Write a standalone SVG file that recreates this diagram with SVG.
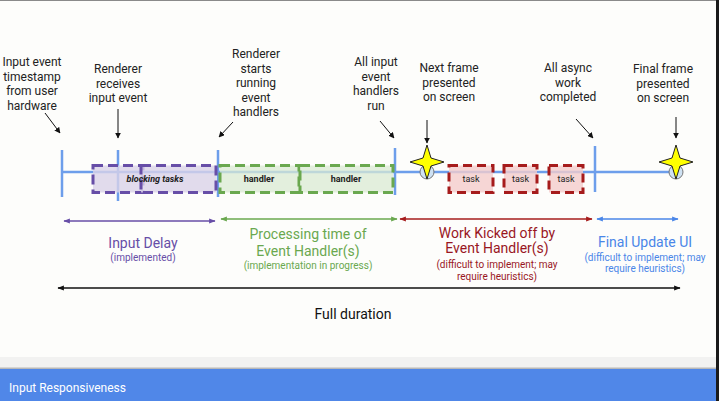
<svg xmlns="http://www.w3.org/2000/svg" width="719" height="401" viewBox="0 0 719 401">
<style>
  text { font-family: Roboto, "Liberation Sans", sans-serif; }
  .lbl { font-size: 12px; fill: #222; text-anchor: middle; }
  .tick { stroke: #6d9eeb; stroke-width: 2.5; }
  .tl { stroke: #6d9eeb; stroke-width: 2.5; fill: none; }
  .pbox { fill: #d9d2e9; fill-opacity: 0.8; stroke: #674ea7; stroke-width: 3; stroke-dasharray: 10 5; }
  .gbox { fill: #d9ead3; fill-opacity: 0.75; stroke: #6aa84f; stroke-width: 3; stroke-dasharray: 10 5; }
  .rbox { fill: #f4cccc; fill-opacity: 0.8; stroke: #a61c1c; stroke-width: 3; stroke-dasharray: 9 5; }
  .bt { font-size: 9px; fill: #222; text-anchor: middle; }
  .ptr { stroke: #111; stroke-width: 1; fill: none; marker-end: url(#ah); }
  .star { fill: #ffff00; stroke: #222; stroke-width: 1; }
  .circ { fill: #cfe2f3; stroke: #777; stroke-width: 1; }
  .big { font-size: 14px; text-anchor: middle; }
  .small { font-size: 10px; text-anchor: middle; }
</style>
<defs>
  <marker id="ah" viewBox="0 0 10 10" refX="9" refY="5" markerWidth="6" markerHeight="6" orient="auto"><path d="M0,0 L10,5 L0,10 z" fill="#111"/></marker>
  <marker id="ap" viewBox="0 0 10 10" refX="9" refY="5" markerWidth="5" markerHeight="5" orient="auto-start-reverse"><path d="M0,1 L10,5 L0,9 z" fill="#674ea7"/></marker>
  <marker id="ag" viewBox="0 0 10 10" refX="9" refY="5" markerWidth="5" markerHeight="5" orient="auto-start-reverse"><path d="M0,1 L10,5 L0,9 z" fill="#6aa84f"/></marker>
  <marker id="ar" viewBox="0 0 10 10" refX="9" refY="5" markerWidth="5" markerHeight="5" orient="auto-start-reverse"><path d="M0,1 L10,5 L0,9 z" fill="#a61c1c"/></marker>
  <marker id="ab" viewBox="0 0 10 10" refX="9" refY="5" markerWidth="5" markerHeight="5" orient="auto-start-reverse"><path d="M0,1 L10,5 L0,9 z" fill="#4a86e8"/></marker>
  <marker id="ak" viewBox="0 0 10 10" refX="9" refY="5" markerWidth="5" markerHeight="5" orient="auto-start-reverse"><path d="M0,1 L10,5 L0,9 z" fill="#111"/></marker>
</defs>

<!-- background / frame -->
<rect x="0" y="0" width="719" height="401" fill="#fdfdfb"/>
<rect x="0" y="0" width="719" height="1" fill="#8a8a8a"/>
<rect x="0" y="357" width="719" height="11" fill="#f2f2f1"/>
<rect x="0" y="367.5" width="719" height="1.5" fill="#b8b8b8"/>
<rect x="0" y="369" width="719" height="32" fill="#5087e8"/>
<text x="9" y="392" font-size="12" fill="#ffffff">Input Responsiveness</text>
<rect x="716" y="0" width="3" height="401" fill="#1a1a1a"/>

<!-- timeline -->
<g id="timeline">
  <line class="tl" x1="62" y1="172" x2="678" y2="172"/>
  <line class="tick" x1="62" y1="150" x2="62" y2="197"/>
  <line class="tick" x1="118" y1="150" x2="118" y2="201"/>
  <line class="tick" x1="218" y1="150" x2="218" y2="197"/>
  <line class="tick" x1="395" y1="148" x2="395" y2="195"/>
  <line class="tick" x1="595" y1="146" x2="595" y2="192"/>
</g>

<!-- boxes -->
<g id="blocking-tasks">
  <rect class="pbox" x="93" y="165.5" width="50" height="27"/>
  <rect class="pbox" x="141" y="165.5" width="75" height="27"/>
  <text class="bt" x="155" y="182" font-weight="bold" font-style="italic">blocking tasks</text>
</g>
<g id="handler-1">
  <rect class="gbox" x="220" y="165.5" width="79" height="27"/>
  <text class="bt" x="259" y="182" font-weight="bold">handler</text>
</g>
<g id="handler-2">
  <rect class="gbox" x="300" y="165.5" width="93" height="27"/>
  <text class="bt" x="346" y="182" font-weight="bold">handler</text>
</g>
<g id="task-1">
  <rect class="rbox" x="449" y="165.5" width="44" height="27"/>
  <text class="bt" x="471" y="182">task</text>
</g>
<g id="task-2">
  <rect class="rbox" x="504" y="165.5" width="33" height="27"/>
  <text class="bt" x="520.5" y="182">task</text>
</g>
<g id="task-3">
  <rect class="rbox" x="549" y="165.5" width="34" height="27"/>
  <text class="bt" x="566" y="182">task</text>
</g>

<!-- frames -->
<g id="next-frame">
  <circle class="circ" cx="427" cy="172" r="7"/>
  <path class="star" d="M427,145 L431,158 L444,162 L431,166 L427,179 L423,166 L410,162 L423,158 Z"/>
</g>
<g id="final-frame">
  <circle class="circ" cx="676" cy="172" r="7"/>
  <path class="star" d="M676,145 L680,158 L693,162 L680,166 L676,179 L672,166 L659,162 L672,158 Z"/>
</g>

<!-- event labels -->
<g id="label-input-timestamp">
  <text class="lbl" x="32" y="66">Input event</text>
  <text class="lbl" x="32" y="80.5">timestamp</text>
  <text class="lbl" x="32" y="95">from user</text>
  <text class="lbl" x="32" y="109.5">hardware</text>
</g>
<g id="label-renderer-receives">
  <text class="lbl" x="118" y="73">Renderer</text>
  <text class="lbl" x="118" y="87.5">receives</text>
  <text class="lbl" x="118" y="102">input event</text>
</g>
<g id="label-renderer-starts">
  <text class="lbl" x="256" y="58">Renderer</text>
  <text class="lbl" x="256" y="72.5">starts</text>
  <text class="lbl" x="256" y="87">running</text>
  <text class="lbl" x="256" y="101.5">event</text>
  <text class="lbl" x="256" y="116">handlers</text>
</g>
<g id="label-all-handlers">
  <text class="lbl" x="376" y="66">All input</text>
  <text class="lbl" x="376" y="80.5">event</text>
  <text class="lbl" x="376" y="95">handlers</text>
  <text class="lbl" x="376" y="109.5">run</text>
</g>
<g id="label-next-frame">
  <text class="lbl" x="449" y="72">Next frame</text>
  <text class="lbl" x="449" y="86.5">presented</text>
  <text class="lbl" x="449" y="101">on screen</text>
</g>
<g id="label-async">
  <text class="lbl" x="568" y="72">All async</text>
  <text class="lbl" x="568" y="86.5">work</text>
  <text class="lbl" x="568" y="101">completed</text>
</g>
<g id="label-final-frame">
  <text class="lbl" x="663" y="73">Final frame</text>
  <text class="lbl" x="663" y="87.5">presented</text>
  <text class="lbl" x="663" y="102">on screen</text>
</g>

<!-- phase labels -->
<g id="phase-input-delay" fill="#674ea7">
  <text class="big" x="143" y="248" fill="#674ea7">Input Delay</text>
  <text class="small" x="143" y="261" fill="#674ea7">(implemented)</text>
</g>
<g id="phase-processing">
  <text class="big" x="308" y="239" fill="#6aa84f">Processing time of</text>
  <text class="big" x="308" y="256" fill="#6aa84f">Event Handler(s)</text>
  <text class="small" x="308" y="269" fill="#6aa84f">(implementation in progress)</text>
</g>
<g id="phase-work">
  <text class="big" x="497" y="238" fill="#99171f">Work Kicked off by</text>
  <text class="big" x="497" y="253" fill="#99171f">Event Handler(s)</text>
  <text class="small" x="497" y="268" fill="#99171f">(difficult to implement; may</text>
  <text class="small" x="497" y="280" fill="#99171f">require heuristics)</text>
</g>
<g id="phase-final">
  <text class="big" x="645" y="247" fill="#4a86e8">Final Update UI</text>
  <text class="small" x="645" y="261" fill="#4a86e8">(difficult to implement; may</text>
  <text class="small" x="645" y="272" fill="#4a86e8">require heuristics)</text>
</g>
<g id="full-duration">
  <text class="big" x="353" y="319" fill="#111">Full duration</text>
</g>

<!-- connectors -->
<g id="connectors">
  <line class="ptr" x1="45" y1="113" x2="60" y2="133"/>
  <line class="ptr" x1="118" y1="109" x2="118" y2="138"/>
  <line class="ptr" x1="233" y1="122" x2="219" y2="137"/>
  <line class="ptr" x1="380" y1="121" x2="394" y2="138"/>
  <line class="ptr" x1="427" y1="120" x2="427" y2="143"/>
  <line class="ptr" x1="576" y1="119" x2="593" y2="138"/>
  <line class="ptr" x1="676" y1="117" x2="676" y2="138"/>

  <line x1="64" y1="221" x2="215" y2="221" stroke="#674ea7" stroke-width="1.3" marker-start="url(#ap)" marker-end="url(#ap)"/>
  <line x1="221" y1="219" x2="397" y2="219" stroke="#6aa84f" stroke-width="1.3" marker-start="url(#ag)" marker-end="url(#ag)"/>
  <line x1="400" y1="219" x2="592" y2="219" stroke="#a61c1c" stroke-width="1.3" marker-start="url(#ar)" marker-end="url(#ar)"/>
  <line x1="597" y1="219" x2="678" y2="219" stroke="#4a86e8" stroke-width="1.3" marker-start="url(#ab)" marker-end="url(#ab)"/>
  <line x1="58" y1="288" x2="680" y2="288" stroke="#111" stroke-width="1.3" marker-start="url(#ak)" marker-end="url(#ak)"/>
</g>
</svg>
